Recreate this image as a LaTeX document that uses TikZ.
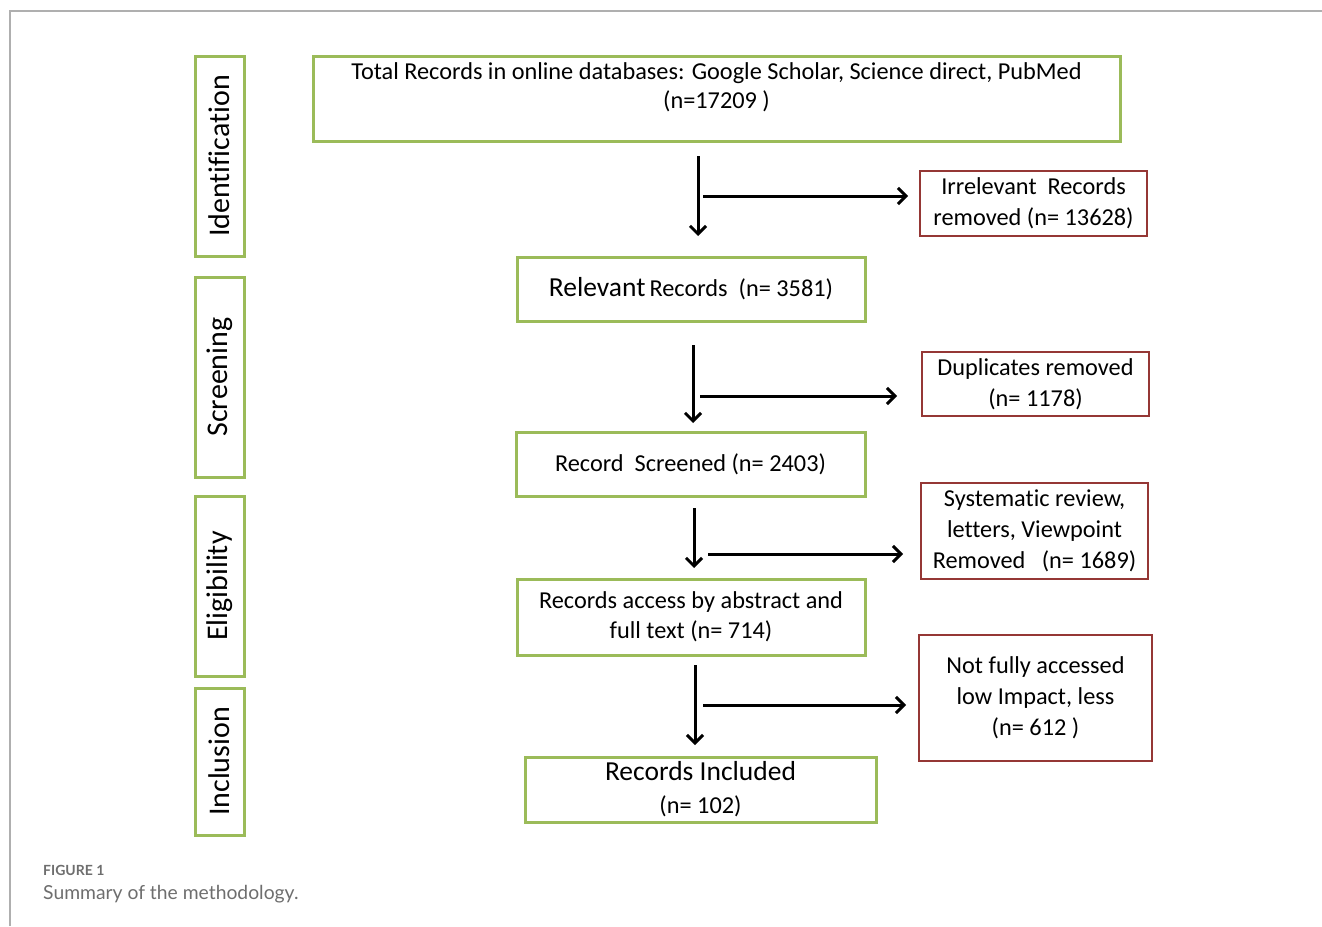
\documentclass[tikz,border=0pt]{standalone}
\usepackage{fontspec}
\setmainfont[Ligatures=NoCommon]{Carlito}
\newfontfamily\capfont{Lato}
\usetikzlibrary{arrows.meta}
\definecolor{boxgreen}{RGB}{155,187,89}
\definecolor{boxred}{RGB}{149,55,53}
\definecolor{framegray}{RGB}{175,175,175}
\definecolor{capgray}{RGB}{110,110,110}
\tikzset{
  gbox/.style={draw=boxgreen, line width=3pt, inner sep=0pt, align=center,
    font=\fontsize{24.3}{30}\selectfont},
  rbox/.style={draw=boxred, line width=2.5pt, inner sep=0pt, align=center,
    font=\fontsize{24.3}{31}\selectfont},
  stagebox/.style={draw=boxgreen, line width=3pt, inner sep=0pt,
    minimum width=49pt},
  stagetext/.style={rotate=90, font=\fontsize{30}{34}\selectfont},
  flow/.style={line width=3pt, -{Straight Barb[length=8pt,width=16pt,line width=3pt]}},
  captext/.style={anchor=base west, text=capgray, inner sep=0pt}
}
\begin{document}
\begin{tikzpicture}[x=1pt,y=-1pt]
\useasboundingbox (0,0) rectangle (1322,926);
% frame
\draw[framegray, line width=1.5pt] (10,926) -- (10,11) -- (1322,11);

% stage boxes
\node[stagebox, minimum height=200pt] (ident) at (219.5,156) {};
\node[stagetext] at (ident.center) {Identification};
\node[stagebox, minimum height=200pt] (screen) at (219.5,377) {};
\node[stagetext] at (screen.center) {Screening};
\node[stagebox, minimum height=180pt] (elig) at (219.5,586) {};
\node[stagetext] at (elig.center) {Eligibility};
\node[stagebox, minimum height=147pt] (incl) at (219.5,761.5) {};
\node[stagetext] at (incl.center) {Inclusion};

% main flow boxes
\node[gbox, minimum width=807pt, minimum height=85pt] (total) at (716.5,98.5) {};
\node[align=center, font=\fontsize{24.3}{29}\selectfont, inner sep=0pt] at ([yshift=11pt]total.center)
  {Total Records in online databases: Google Scholar, Science direct, PubMed\\(n=17209 )};
\node[gbox, minimum width=348pt, minimum height=64pt] (relevant) at (691,289)
  {{\fontsize{27.5}{30}\selectfont Relevant}\,Records\ \ (n= 3581)};
\node[gbox, minimum width=349pt, minimum height=64pt] (screened) at (690.5,464)
  {Record\ \ Screened\ (n= 2403)};
\node[gbox, minimum width=348pt, minimum height=76pt] (access) at (691,617)
  {Records access by abstract and\\full text (n= 714)};
\node[gbox, minimum width=351pt, minimum height=65pt, font=\fontsize{24.3}{33}\selectfont] (included) at (700.5,789.5)
  {{\fontsize{27.5}{30}\selectfont Records Included}\\(n= 102)};

% exclusion boxes
\node[rbox, minimum width=227pt, minimum height=65pt] (irrel) at (1033.5,203.5)
  {Irrelevant\ \ Records\\removed (n= 13628)};
\node[rbox, minimum width=227pt, minimum height=64pt] (dup) at (1035.5,384)
  {Duplicates removed\\(n= 1178)};
\node[rbox, minimum width=227pt, minimum height=96pt] (syst) at (1034.5,531)
  {Systematic review,\\letters, Viewpoint\\Removed\ \ \ (n= 1689)};
\node[rbox, minimum width=233pt, minimum height=126pt] (notfull) at (1035.5,698)
  {Not fully accessed\\low Impact, less\\(n= 612 )};

% connectors
\coordinate (v1a) at (698,156); \coordinate (v1b) at (698,236);
\coordinate (h1a) at (703,196); \coordinate (h1b) at (908,196);
\draw[flow] (v1a) -- (v1b);
\draw[flow] (h1a) -- (h1b);

\coordinate (v2a) at (693,345); \coordinate (v2b) at (693,423);
\coordinate (h2a) at (700,396); \coordinate (h2b) at (897,396);
\draw[flow] (v2a) -- (v2b);
\draw[flow] (h2a) -- (h2b);

\coordinate (v3a) at (694,508); \coordinate (v3b) at (694,568);
\coordinate (h3a) at (708,554); \coordinate (h3b) at (903,554);
\draw[flow] (v3a) -- (v3b);
\draw[flow] (h3a) -- (h3b);

\coordinate (v4a) at (695,665); \coordinate (v4b) at (695,745);
\coordinate (h4a) at (703,705); \coordinate (h4b) at (906,705);
\draw[flow] (v4a) -- (v4b);
\draw[flow] (h4a) -- (h4b);

% caption
\node[captext, font=\capfont\bfseries\fontsize{14}{16}\selectfont] (figlab) at (43,875) {FIGURE 1};
\node[captext, font=\capfont\fontsize{19.3}{22}\selectfont] (figcap) at (43,899) {Summary of the methodology.};
\end{tikzpicture}
\end{document}
